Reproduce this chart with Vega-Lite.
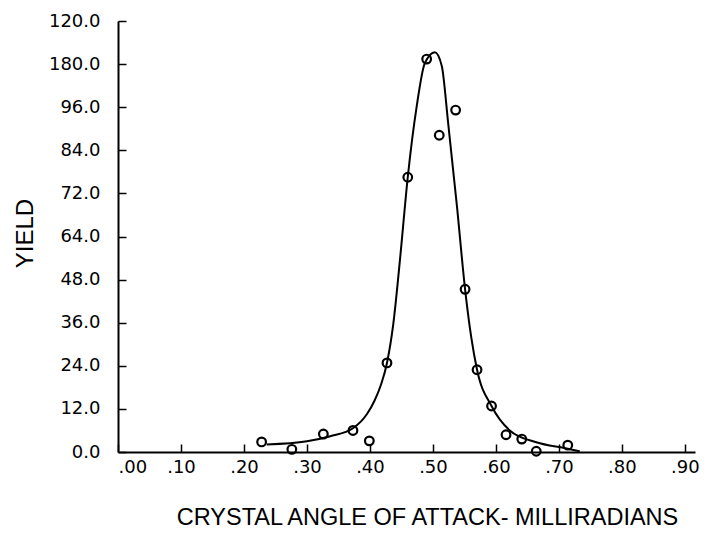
{
  "$schema": "https://vega.github.io/schema/vega-lite/v6.json",
  "width": 577,
  "height": 431,
  "autosize": {"type": "none"},
  "padding": {"left": 118, "top": 21, "right": 12, "bottom": 96},
  "background": "white",
  "config": {
    "view": {"stroke": null},
    "axis": {
      "domainColor": "black",
      "domainWidth": 2,
      "tickColor": "black",
      "tickWidth": 1.5,
      "tickSize": -8,
      "grid": false,
      "labelColor": "black",
      "labelFont": "DejaVu Sans",
      "labelFontSize": 18,
      "labelFontWeight": "normal",
      "titleColor": "black",
      "titleFont": "Liberation Sans",
      "titleFontWeight": "normal"
    }
  },
  "datasets": {
    "fit": [
      {"angle": 0.236, "yield": 2.1},
      {"angle": 0.300, "yield": 3.0},
      {"angle": 0.337, "yield": 4.4},
      {"angle": 0.373, "yield": 6.6},
      {"angle": 0.395, "yield": 10.5},
      {"angle": 0.407, "yield": 14.2},
      {"angle": 0.418, "yield": 19.0},
      {"angle": 0.427, "yield": 24.8},
      {"angle": 0.437, "yield": 35.6},
      {"angle": 0.448, "yield": 54.2},
      {"angle": 0.460, "yield": 76.5},
      {"angle": 0.474, "yield": 96.0},
      {"angle": 0.487, "yield": 108.2},
      {"angle": 0.503, "yield": 111.3},
      {"angle": 0.514, "yield": 107.5},
      {"angle": 0.524, "yield": 91.8},
      {"angle": 0.538, "yield": 68.6},
      {"angle": 0.551, "yield": 45.3},
      {"angle": 0.561, "yield": 31.7},
      {"angle": 0.570, "yield": 22.9},
      {"angle": 0.593, "yield": 12.8},
      {"angle": 0.622, "yield": 6.0},
      {"angle": 0.664, "yield": 2.7},
      {"angle": 0.712, "yield": 1.0},
      {"angle": 0.733, "yield": 0.2}
    ],
    "measured": [
      {"angle": 0.228, "yield": 2.8},
      {"angle": 0.276, "yield": 0.75},
      {"angle": 0.326, "yield": 5.0},
      {"angle": 0.373, "yield": 6.0},
      {"angle": 0.399, "yield": 3.1},
      {"angle": 0.427, "yield": 24.8},
      {"angle": 0.460, "yield": 76.5},
      {"angle": 0.490, "yield": 109.4},
      {"angle": 0.510, "yield": 88.2},
      {"angle": 0.536, "yield": 95.2},
      {"angle": 0.551, "yield": 45.3},
      {"angle": 0.570, "yield": 22.9},
      {"angle": 0.593, "yield": 12.8},
      {"angle": 0.616, "yield": 4.8},
      {"angle": 0.641, "yield": 3.6},
      {"angle": 0.664, "yield": 0.2},
      {"angle": 0.714, "yield": 1.9}
    ]
  },
  "encoding": {
    "x": {
      "field": "angle",
      "type": "quantitative",
      "scale": {"domain": [0, 0.916], "nice": false, "zero": false},
      "axis": {
        "values": [0, 0.1, 0.2, 0.3, 0.4, 0.5, 0.6, 0.7, 0.8, 0.9],
        "labelExpr": "replace(format(datum.value, '.2f'), '0.', '.')",
        "labelPadding": 14,
        "title": "CRYSTAL ANGLE OF ATTACK- MILLIRADIANS",
        "titleFontSize": 23.5,
        "titleX": 309,
        "titleY": 72,
        "titleAnchor": null,
        "titleAlign": "center",
        "titleBaseline": "alphabetic"
      }
    },
    "y": {
      "field": "yield",
      "type": "quantitative",
      "scale": {"domain": [0, 120], "nice": false},
      "axis": {
        "values": [0, 12, 24, 36, 48, 60, 72, 84, 96, 108, 120],
        "labelExpr": "datum.value == 60 ? '64.0' : datum.value == 108 ? '180.0' : format(datum.value, '.1f')",
        "labelPadding": 26,
        "title": "YIELD",
        "titleFontSize": 24,
        "titleAngle": -90,
        "titleX": -93,
        "titleY": 212,
        "titleAlign": "center",
        "titleBaseline": "middle"
      }
    }
  },
  "layer": [
    {
      "data": {"name": "fit"},
      "mark": {"type": "line", "color": "black", "strokeWidth": 2, "interpolate": "monotone"}
    },
    {
      "data": {"name": "measured"},
      "mark": {"type": "point", "shape": "circle", "filled": false, "color": "black", "strokeWidth": 2.2, "size": 75, "opacity": 1}
    }
  ]
}
